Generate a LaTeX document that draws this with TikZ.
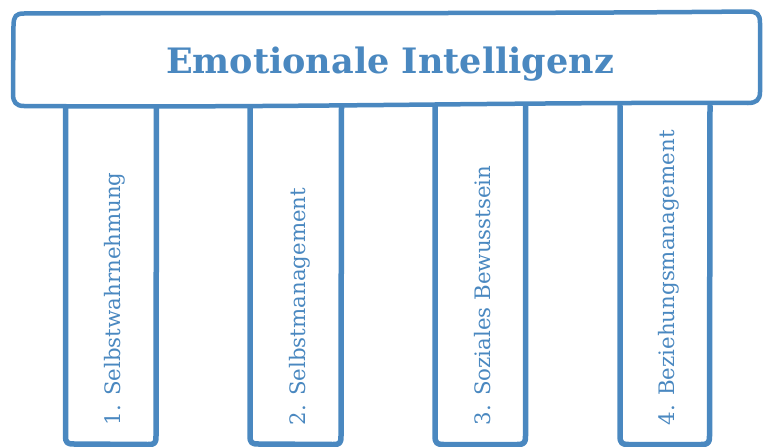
\documentclass[tikz,border=0pt]{standalone}
\usepackage{fontspec}
\setmainfont{DejaVu Serif}
\definecolor{c4a88c0}{RGB}{74,136,192}

\begin{document}
\begin{tikzpicture}[y=-1pt, x=1pt, inner sep=0pt, outer sep=0pt]
  \useasboundingbox (0,0) rectangle (763,447);
  % four pillars, open at the top
  \path[draw=c4a88c0,line join=round,line cap=round,line width=5.5pt]
    (65.5,106) -- (65.5,436) .. controls (65.5,443) and (67.5,444) ..
    (74.0,444) -- (148.0,444.5) .. controls (155.0,444.5) and (156.0,443) ..
    (156.0,436) -- (156.5,106);
  \path[draw=c4a88c0,line join=round,line cap=round,line width=5.5pt]
    (250.0,106) -- (250.0,436) .. controls (250.0,443) and (252.0,444) ..
    (258.5,444) -- (333.0,444.5) .. controls (340.0,444.5) and (341.0,443) ..
    (341.0,436) -- (341.5,106);
  \path[draw=c4a88c0,line join=round,line cap=round,line width=5.5pt]
    (435.0,106) -- (435.0,436) .. controls (435.0,443) and (437.0,444.5) ..
    (443.5,444.5) -- (517.0,444.5) .. controls (524.0,444.5) and (525.5,443) ..
    (525.5,436) -- (525.5,106);
  \path[draw=c4a88c0,line join=round,line cap=round,line width=5.5pt]
    (620.0,106) -- (620.0,436) .. controls (620.0,443) and (622.0,444.5) ..
    (628.5,444.5) -- (701.0,444.5) .. controls (708.0,444.5) and (709.5,443) ..
    (709.5,436) -- (710.0,106);
  % roof
  \path[draw=c4a88c0,fill=white,line join=round,line width=4.5pt]
    (24,13.5) .. controls (250,12.5) and (500,14) .. (748,11.5) .. controls
    (757,11.5) and (760,14) .. (760,23) -- (760,92) .. controls (760,100) and
    (756,103) .. (748,103) .. controls (500,102) and (300,108) .. (24,106)
    .. controls (16,106) and (13,102) .. (13,94) -- (13.5,26) .. controls
    (13.5,16) and (16,13.5) .. (24,13.5) -- cycle;
  \path[fill=c4a88c0] (390,73) node[anchor=base,text=c4a88c0] (textRoof)
    {\fontsize{35}{35}\selectfont\bfseries Emotionale Intelligenz};
  \path (120.5,425) node[anchor=base west,rotate=90,text=c4a88c0] (textPillar1)
    {\fontsize{21.3}{21.3}\selectfont 1. Selbstwahrnehmung};
  \path (305.0,425) node[anchor=base west,rotate=90,text=c4a88c0] (textPillar2)
    {\fontsize{21.3}{21.3}\selectfont 2. Selbstmanagement};
  \path (490.0,425) node[anchor=base west,rotate=90,text=c4a88c0] (textPillar3)
    {\fontsize{21.3}{21.3}\selectfont 3. Soziales Bewusstsein};
  \path (674.5,425) node[anchor=base west,rotate=90,text=c4a88c0] (textPillar4)
    {\fontsize{21.3}{21.3}\selectfont 4. Beziehungsmanagement};
\end{tikzpicture}
\end{document}
